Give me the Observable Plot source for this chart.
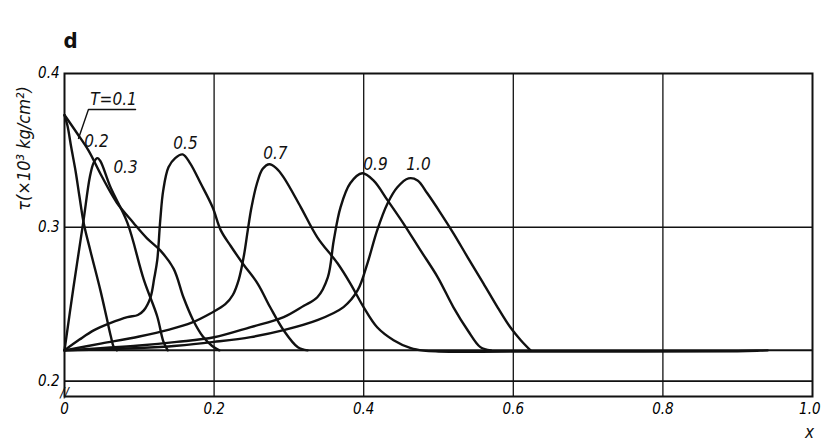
<!DOCTYPE html>
<html><head><meta charset="utf-8">
<script src="https://cdn.jsdelivr.net/npm/d3@7"></script>
<script src="https://cdn.jsdelivr.net/npm/@observablehq/plot@0.6"></script>
<style>body{margin:0;background:#fff} svg text{font-stretch:condensed}</style>
</head><body><div id="chart"></div>
<script>
// ---- data ----
const curveT01 = [[0,0.373],[0.004,0.366],[0.009,0.352],[0.015,0.336],[0.02,0.32],[0.026,0.302],[0.035,0.284],[0.048,0.259],[0.056,0.242],[0.062,0.229],[0.066,0.222],[0.07,0.22]];
const curveT02 = [[0,0.22],[0.012,0.261],[0.025,0.303],[0.034,0.333],[0.039,0.342],[0.044,0.345],[0.048,0.343],[0.0615,0.326],[0.084,0.303],[0.106,0.266],[0.124,0.242],[0.132,0.226],[0.138,0.22]];
const curveT03 = [[0,0.373],[0.017,0.361],[0.032,0.35],[0.05,0.333],[0.07,0.316],[0.092,0.303],[0.11,0.293],[0.128,0.285],[0.146,0.273],[0.159,0.2545],[0.172,0.2396],[0.185,0.229],[0.197,0.223],[0.207,0.22]];
const curveT05 = [[0,0.22],[0.02,0.227],[0.039,0.233],[0.061,0.2377],[0.084,0.2416],[0.098,0.243],[0.106,0.246],[0.115,0.2545],[0.12,0.267],[0.124,0.2786],[0.128,0.3045],[0.132,0.324],[0.139,0.339],[0.148,0.345],[0.158,0.3474],[0.168,0.3416],[0.182,0.3286],[0.198,0.313],[0.209,0.298],[0.222,0.288],[0.239,0.276],[0.258,0.2636],[0.275,0.248],[0.293,0.233],[0.312,0.222],[0.325,0.22]];
const curveT07 = [[0,0.22],[0.05,0.2245],[0.1,0.229],[0.14,0.2335],[0.17,0.238],[0.195,0.244],[0.215,0.25],[0.225,0.256],[0.233,0.266],[0.24,0.282],[0.245,0.298],[0.25,0.313],[0.257,0.328],[0.265,0.338],[0.274,0.341],[0.283,0.3385],[0.293,0.3325],[0.316,0.313],[0.338,0.2935],[0.365,0.2766],[0.382,0.2636],[0.4,0.248],[0.418,0.235],[0.44,0.2266],[0.463,0.2214],[0.48,0.2198],[0.5,0.2193],[0.7,0.2193],[0.9,0.2194],[0.93,0.2198],[0.94,0.22]];
const curveT09 = [[0,0.22],[0.1,0.2232],[0.15,0.2255],[0.2,0.2285],[0.249,0.2351],[0.293,0.2416],[0.32,0.249],[0.338,0.2545],[0.352,0.2675],[0.36,0.2916],[0.369,0.313],[0.382,0.3286],[0.398,0.3351],[0.413,0.3305],[0.432,0.3175],[0.453,0.3026],[0.476,0.285],[0.499,0.2675],[0.52,0.248],[0.539,0.2331],[0.556,0.2221],[0.57,0.22]];
const curveT10 = [[0,0.22],[0.1,0.2215],[0.15,0.223],[0.2,0.2255],[0.249,0.2286],[0.293,0.2331],[0.338,0.2396],[0.373,0.2481],[0.392,0.2591],[0.405,0.2766],[0.418,0.298],[0.432,0.3156],[0.445,0.326],[0.46,0.3318],[0.472,0.3305],[0.485,0.3221],[0.503,0.3091],[0.52,0.2961],[0.539,0.2805],[0.56,0.2636],[0.579,0.248],[0.596,0.235],[0.61,0.2266],[0.623,0.22]];
const seriesNames = ["0.1","0.2","0.3","0.5","0.7","0.9","1.0"];
const seriesCurves = [curveT01,curveT02,curveT03,curveT05,curveT07,curveT09,curveT10];

const labelText = ["T=0.1","0.2","0.3","0.5","0.7","0.9","1.0"];
const labelX = [0.0655,0.0428,0.0816,0.1618,0.282,0.4158,0.4733];
const labelY = [0.3831,0.3558,0.339,0.3545,0.348,0.3409,0.3409];
const leaderX = [0.095,0.032,0.0187];
const leaderY = [0.3766,0.3766,0.3578];

const xTicksInner = [0,0.2,0.4,0.6,0.8];
const xTicksEnd = [1.0];
const yTicks = [0.2,0.3,0.4];
const xGrid = [0.2,0.4,0.6,0.8];
const yGrid = [0.2,0.3];
const baseline = [0.22];
const breakMark = [{x:0,y:0.1925}];
const yLabel = "τ(×10³ kg/cm²)";
const xLabel = "x";
const panelTitle = "d";

// ---- build ----
const lines = seriesCurves.flatMap((c,i)=>c.map(([x,y])=>({T:seriesNames[i],x,y})));
const labels = labelText.map((t,i)=>({t,x:labelX[i],y:labelY[i]}));
const leader = leaderX.map((x,i)=>({x,y:leaderY[i]}));
const fmtX = d=>d===0?"0":d.toFixed(1);

const font = "'Liberation Sans Narrow', 'DejaVu Sans Condensed', 'Liberation Sans', Arial, sans-serif";
const plot = Plot.plot({
  width:821, height:446,
  marginLeft:64, marginRight:9, marginTop:73, marginBottom:50,
  x:{domain:[0,1]}, y:{domain:[0.19,0.4]},
  style:{fontFamily:font, background:"white", color:"black"},
  marks:[
    Plot.ruleX(xGrid,{stroke:"#111",strokeWidth:1.3}),
    Plot.ruleY(yGrid,{stroke:"#111",strokeWidth:1.6}),
    Plot.ruleY(baseline,{stroke:"#111",strokeWidth:2}),
    Plot.frame({stroke:"#111",strokeWidth:2}),
    Plot.line(lines,{x:"x",y:"y",z:"T",curve:"catmull-rom",stroke:"#111",strokeWidth:2.4,strokeLinejoin:"round"}),
    Plot.line(leader,{x:"x",y:"y",stroke:"#111",strokeWidth:1.4}),
    Plot.text(labels,{x:"x",y:"y",text:"t",fontSize:17,fontStyle:"italic",fill:"#111"}),
    Plot.axisX(xTicksInner,{tickSize:0,tickPadding:7,fontSize:15,fontStyle:"italic",tickFormat:fmtX,label:null}),
    Plot.axisX(xTicksEnd,{tickSize:0,tickPadding:7,fontSize:15,fontStyle:"italic",tickFormat:fmtX,textAnchor:"end",dx:8,label:null}),
    Plot.axisY(yTicks,{tickSize:0,tickPadding:5,fontSize:15,fontStyle:"italic",tickFormat:d=>d.toFixed(1),label:null}),
    Plot.text(breakMark,{x:"x",y:"y",text:()=>"//",fontSize:14,fontStyle:"italic",fill:"#111"}),
    Plot.text([yLabel],{frameAnchor:"top-left",dx:-40,dy:75,rotate:-90,textAnchor:"middle",lineAnchor:"middle",fontSize:18,fontStyle:"italic",fill:"#111"}),
    Plot.text([xLabel],{frameAnchor:"bottom-right",dx:-3,dy:36,textAnchor:"middle",lineAnchor:"middle",fontSize:17,fontStyle:"italic",fill:"#111"}),
    Plot.text([panelTitle],{frameAnchor:"top-left",dx:6,dy:-33,textAnchor:"middle",lineAnchor:"middle",fontSize:22,fontWeight:"bold",fill:"#111"})
  ]
});
document.getElementById("chart").append(plot);
</script>
</body></html>
